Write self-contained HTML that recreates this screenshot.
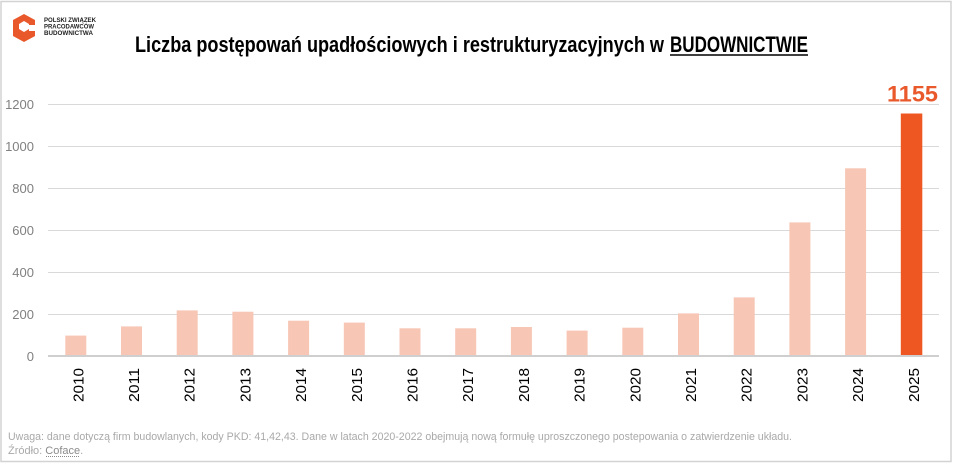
<!DOCTYPE html>
<html><head><meta charset="utf-8"><style>
html,body{margin:0;padding:0;background:#fff;}
svg{display:block;}
text{font-family:"Liberation Sans",sans-serif;}
</style></head><body>
<svg width="954" height="464" viewBox="0 0 954 464" xmlns="http://www.w3.org/2000/svg">
<rect x="0" y="0" width="954" height="464" fill="#fff"/>
<rect x="1" y="1.5" width="950" height="460" fill="none" stroke="#d3d3d3" stroke-width="1.5"/>
<!-- logo -->
<g>
<polygon points="24,14 35,20 35,36 24,42 13,36 13,20" fill="#E8582B"/>
<polygon points="24,21 29,24 29,29 24,32 19,29 19,24" fill="#fff"/>
<polygon points="29,25 36,25 36,31 29,31" fill="#fff"/>
<polygon points="29,31 35,31 35,36 29,39" fill="#E8582B"/>
</g>
<g font-weight="bold" font-size="6" fill="#222">
<text x="44" y="22" textLength="52" lengthAdjust="spacingAndGlyphs">POLSKI ZWIĄZEK</text>
<text x="44" y="28.5" textLength="50" lengthAdjust="spacingAndGlyphs">PRACODAWCÓW</text>
<text x="44" y="35" textLength="49" lengthAdjust="spacingAndGlyphs">BUDOWNICTWA</text>
</g>
<!-- title -->
<text x="135" y="52" font-size="22" font-weight="bold" fill="#000" textLength="529" lengthAdjust="spacingAndGlyphs">Liczba postępowań upadłościowych i restrukturyzacyjnych w</text>
<text x="670" y="52" font-size="22" font-weight="bold" fill="#000" textLength="138" lengthAdjust="spacingAndGlyphs">BUDOWNICTWIE</text>
<line x1="670" y1="55" x2="808" y2="55" stroke="#000" stroke-width="1.5"/>
<!-- gridlines -->
<g stroke="#d9d9d9" stroke-width="1">
<line x1="48" y1="104.5" x2="939" y2="104.5"/>
<line x1="48" y1="146.5" x2="939" y2="146.5"/>
<line x1="48" y1="188.5" x2="939" y2="188.5"/>
<line x1="48" y1="230.5" x2="939" y2="230.5"/>
<line x1="48" y1="272.5" x2="939" y2="272.5"/>
<line x1="48" y1="314.5" x2="939" y2="314.5"/>
</g>
<!-- y labels -->
<g font-size="13" fill="#808080" text-anchor="end">
<text x="34" y="109">1200</text>
<text x="34" y="151">1000</text>
<text x="34" y="193">800</text>
<text x="34" y="235">600</text>
<text x="34" y="277">400</text>
<text x="34" y="319">200</text>
<text x="34" y="361">0</text>
</g>
<!-- bars -->
<g fill="#F7C6B5">
<rect x="65.3" y="335.6" width="21" height="20.4"/>
<rect x="121.0" y="326.4" width="21" height="29.6"/>
<rect x="176.7" y="310.4" width="21" height="45.6"/>
<rect x="232.4" y="311.7" width="21" height="44.3"/>
<rect x="288.1" y="320.7" width="21" height="35.3"/>
<rect x="343.8" y="322.6" width="21" height="33.4"/>
<rect x="399.5" y="328.3" width="21" height="27.7"/>
<rect x="455.2" y="328.3" width="21" height="27.7"/>
<rect x="510.9" y="327.0" width="21" height="29.0"/>
<rect x="566.6" y="330.6" width="21" height="25.4"/>
<rect x="622.3" y="327.7" width="21" height="28.3"/>
<rect x="678.0" y="313.4" width="21" height="42.6"/>
<rect x="733.7" y="297.4" width="21" height="58.6"/>
<rect x="789.4" y="222.4" width="21" height="133.6"/>
<rect x="845.1" y="168.3" width="21" height="187.7"/>
</g>
<rect x="900.8" y="113.5" width="21.5" height="242.5" fill="#EF5722"/>
<line x1="48" y1="356" x2="939" y2="356" stroke="#cfcfcf" stroke-width="2"/>
<text x="887" y="101.7" font-size="22" font-weight="bold" fill="#E9592C" textLength="51" lengthAdjust="spacingAndGlyphs">1155</text>
<!-- x labels -->
<g font-size="15" fill="#000" text-anchor="end">
<text transform="translate(83.3,368) rotate(-90)" textLength="34" lengthAdjust="spacingAndGlyphs">2010</text>
<text transform="translate(139.0,368) rotate(-90)" textLength="34" lengthAdjust="spacingAndGlyphs">2011</text>
<text transform="translate(194.7,368) rotate(-90)" textLength="34" lengthAdjust="spacingAndGlyphs">2012</text>
<text transform="translate(250.4,368) rotate(-90)" textLength="34" lengthAdjust="spacingAndGlyphs">2013</text>
<text transform="translate(306.1,368) rotate(-90)" textLength="34" lengthAdjust="spacingAndGlyphs">2014</text>
<text transform="translate(361.8,368) rotate(-90)" textLength="34" lengthAdjust="spacingAndGlyphs">2015</text>
<text transform="translate(417.5,368) rotate(-90)" textLength="34" lengthAdjust="spacingAndGlyphs">2016</text>
<text transform="translate(473.2,368) rotate(-90)" textLength="34" lengthAdjust="spacingAndGlyphs">2017</text>
<text transform="translate(528.9,368) rotate(-90)" textLength="34" lengthAdjust="spacingAndGlyphs">2018</text>
<text transform="translate(584.6,368) rotate(-90)" textLength="34" lengthAdjust="spacingAndGlyphs">2019</text>
<text transform="translate(640.3,368) rotate(-90)" textLength="34" lengthAdjust="spacingAndGlyphs">2020</text>
<text transform="translate(696.0,368) rotate(-90)" textLength="34" lengthAdjust="spacingAndGlyphs">2021</text>
<text transform="translate(751.7,368) rotate(-90)" textLength="34" lengthAdjust="spacingAndGlyphs">2022</text>
<text transform="translate(807.4,368) rotate(-90)" textLength="34" lengthAdjust="spacingAndGlyphs">2023</text>
<text transform="translate(863.1,368) rotate(-90)" textLength="34" lengthAdjust="spacingAndGlyphs">2024</text>
<text transform="translate(918.8,368) rotate(-90)" textLength="34" lengthAdjust="spacingAndGlyphs">2025</text>
</g>
<!-- footer -->
<text x="8" y="440" font-size="11" fill="#a9a9a9" textLength="784" lengthAdjust="spacingAndGlyphs">Uwaga: dane dotyczą firm budowlanych, kody PKD: 41,42,43. Dane w latach 2020-2022 obejmują nową formułę uproszczonego postepowania o zatwierdzenie układu.</text>
<text x="8" y="454" font-size="11" fill="#a9a9a9">Źródło: <tspan fill="#8a8a8a">Coface</tspan>.</text>
<line x1="46" y1="456.5" x2="80" y2="456.5" stroke="#8a8a8a" stroke-width="1" stroke-dasharray="1,1"/>
</svg>
</body></html>
